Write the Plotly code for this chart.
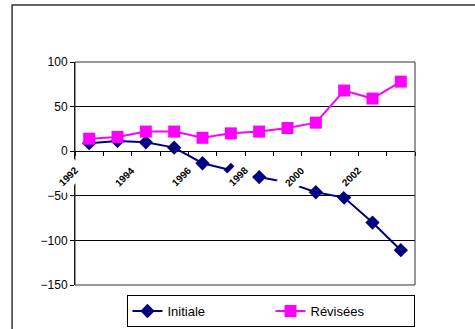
import plotly.graph_objects as go

# Years on the category axis and the two series
years = [str(y) for y in range(1992, 2004)]
initiale = [9, 11.5, 10, 4, -13.5, -21, -29, -35, -46, -52, -80, -111]
revisees = [14, 16, 22, 22, 15, 20, 22, 26, 32, 68, 59, 78]
labelled_years = years[::2]
y_ticks = [100, 50, 0, -50, -100, -150]

FONT = "Arial, Liberation Sans, sans-serif"

fig = go.Figure()
fig.add_trace(go.Scatter(
    x=years, y=initiale, name="Initiale", mode="lines+markers",
    line=dict(color="#000080", width=2),
    marker=dict(symbol="diamond", size=11, color="#000080"),
))
fig.add_trace(go.Scatter(
    x=years, y=revisees, name="Révisées", mode="lines+markers",
    line=dict(color="#FF00FF", width=2),
    marker=dict(symbol="square", size=12, color="#FF00FF"),
))

# Rotated year labels with white boxes, Excel-style, sitting under the zero axis
for yr in labelled_years:
    fig.add_annotation(
        x=years.index(yr), y=0, xref="x", yref="y", text="<b>%s</b>" % yr,
        showarrow=False, textangle=-45, xanchor="center", yanchor="middle",
        xshift=-21, yshift=-25, bgcolor="white", borderpad=4,
        font=dict(family=FONT, size=10, color="black"),
    )

# Outer chart frame and plot area frame
fig.add_shape(type="rect", xref="paper", yref="paper",
              x0=-0.185, x1=1.6, y0=-0.6, y1=1.256,
              line=dict(color="#333333", width=1.5), layer="below")
fig.add_shape(type="rect", xref="paper", yref="paper",
              x0=0, x1=1, y0=0, y1=1,
              line=dict(color="#333333", width=1))

fig.update_layout(
    width=475, height=329,
    margin=dict(l=75, r=60, t=62, b=44, autoexpand=False),
    paper_bgcolor="white", plot_bgcolor="white",
    font=dict(family=FONT, size=12, color="black"),
    showlegend=True,
    legend=dict(
        orientation="h", x=0.575, y=-0.045, xanchor="center", yanchor="top",
        bordercolor="black", borderwidth=1, bgcolor="white",
        font=dict(family=FONT, size=13, color="black"),
        entrywidth=98, entrywidthmode="pixels", tracegroupgap=0,
    ),
    xaxis=dict(
        type="category", range=[-0.5, 11.5],
        anchor="free", position=0.6,
        showline=True, linecolor="black", linewidth=1,
        ticks="outside", tickson="boundaries", ticklen=4, tickcolor="black",
        showticklabels=False, showgrid=False, zeroline=False,
    ),
    yaxis=dict(
        range=[-150, 100], tickvals=y_ticks,
        showline=True, linecolor="black", linewidth=1,
        ticks="outside", ticklen=4, tickcolor="black",
        showgrid=True, gridcolor="black", gridwidth=1, zeroline=False,
        tickfont=dict(family=FONT, size=12, color="black"),
    ),
)

fig.write_html("out.html")
